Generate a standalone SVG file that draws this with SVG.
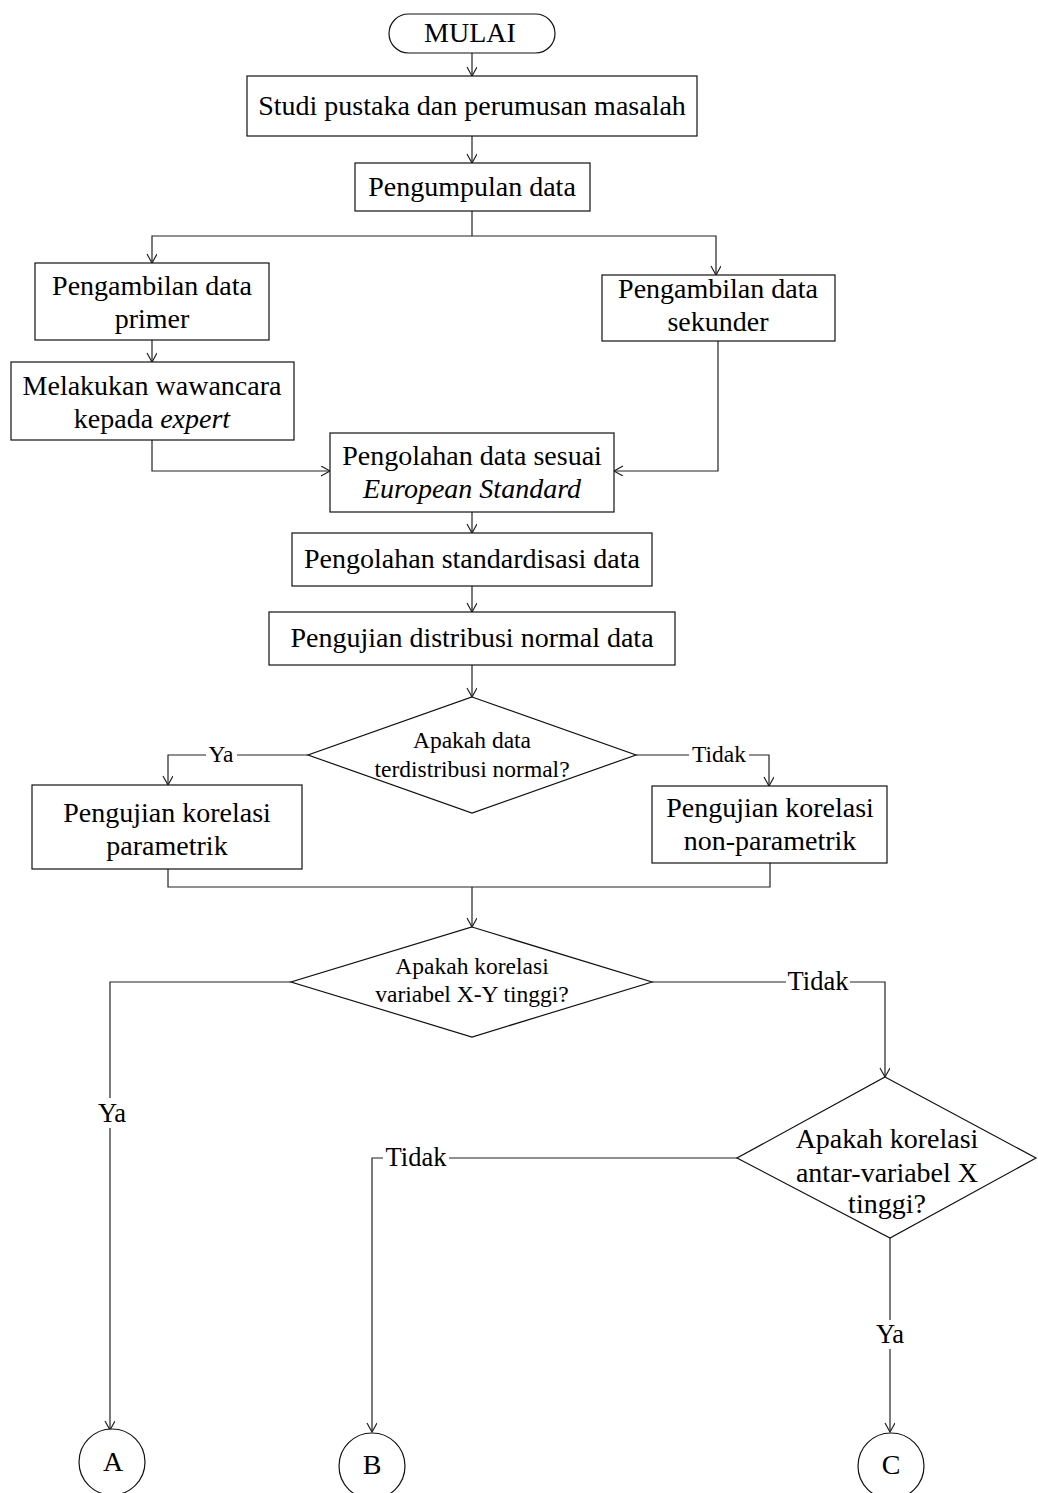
<svg xmlns="http://www.w3.org/2000/svg" width="1038" height="1493" viewBox="0 0 1038 1493">
  <style>
    .shape { fill: #fff; stroke: #111; stroke-width: 1.2; }
    .line { fill: none; stroke: #222; stroke-width: 1.2; }
    .arrow { marker-end: url(#head); }
    text { font-family: "Liberation Serif", "Times New Roman", serif; fill: #000; text-anchor: middle; }
    .t28 { font-size: 28px; }
    .t23 { font-size: 23.5px; }
    .lbl23 { font-size: 23.5px; }
    .lbl26 { font-size: 26.5px; }
    .it { font-style: italic; }
  </style>
  <defs>
    <marker id="head" markerWidth="12" markerHeight="12" refX="10" refY="5" orient="auto" markerUnits="userSpaceOnUse">
      <path d="M1,0 L10,5 L1,10" fill="none" stroke="#222" stroke-width="1.2"/>
    </marker>
  </defs>

  <rect width="1038" height="1493" fill="#fff"/>

  <!-- connectors -->
  <g id="connectors">
    <line class="line arrow" x1="472" y1="53" x2="472" y2="76"/>
    <line class="line arrow" x1="472" y1="136" x2="472" y2="163"/>
    <!-- split after Pengumpulan data -->
    <polyline class="line" points="472,211 472,236"/>
    <polyline class="line arrow" points="472,236 152,236 152,263"/>
    <polyline class="line arrow" points="472,236 716,236 716,275"/>
    <line class="line arrow" x1="152" y1="340" x2="152" y2="362"/>
    <polyline class="line arrow" points="152,440 152,471 330,471"/>
    <polyline class="line arrow" points="718,341 718,471 614,471"/>
    <line class="line arrow" x1="472" y1="512" x2="472" y2="533"/>
    <line class="line arrow" x1="472" y1="586" x2="472" y2="612"/>
    <line class="line arrow" x1="472" y1="665" x2="472" y2="697"/>
    <!-- normality decision -->
    <polyline class="line" points="308,755 237,755"/>
    <polyline class="line arrow" points="206,755 168,755 168,785"/>
    <polyline class="line" points="636,755 689,755"/>
    <polyline class="line arrow" points="749,755 769,755 769,786"/>
    <!-- merge of correlation tests -->
    <polyline class="line" points="168,869 168,887 770,887 770,863"/>
    <line class="line arrow" x1="472" y1="887" x2="472" y2="927"/>
    <!-- X-Y correlation decision -->
    <polyline class="line" points="291,982 110,982 110,1098"/>
    <line class="line arrow" x1="110" y1="1128" x2="110" y2="1430"/>
    <polyline class="line" points="652,982 786,982"/>
    <polyline class="line arrow" points="850,982 885,982 885,1077"/>
    <!-- X-X correlation decision -->
    <polyline class="line" points="737,1158 449,1158"/>
    <polyline class="line arrow" points="383,1158 372,1158 372,1432"/>
    <line class="line" x1="890" y1="1238" x2="890" y2="1320"/>
    <line class="line arrow" x1="890" y1="1349" x2="890" y2="1432"/>

    <text class="lbl23" x="221" y="762">Ya</text>
    <text class="lbl23" x="719" y="762">Tidak</text>
    <text class="lbl26" x="112" y="1122">Ya</text>
    <text class="lbl26" x="818" y="990">Tidak</text>
    <text class="lbl26" x="416" y="1166">Tidak</text>
    <text class="lbl26" x="890" y="1343">Ya</text>
  </g>

  <g id="start">
    <rect class="shape" x="389" y="14" width="166" height="39" rx="19.5" ry="19.5"/>
    <text class="t28" x="470" y="42">MULAI</text>
  </g>

  <g id="studi">
    <rect class="shape" x="247" y="76" width="450" height="60"/>
    <text class="t28" x="472" y="115">Studi pustaka dan perumusan masalah</text>
  </g>

  <g id="pengumpulan">
    <rect class="shape" x="355" y="163" width="235" height="48"/>
    <text class="t28" x="472" y="196">Pengumpulan data</text>
  </g>

  <g id="primer">
    <rect class="shape" x="35" y="263" width="234" height="77"/>
    <text class="t28" x="152" y="295">Pengambilan data</text>
    <text class="t28" x="152" y="328">primer</text>
  </g>

  <g id="sekunder">
    <rect class="shape" x="602" y="275" width="233" height="66"/>
    <text class="t28" x="718" y="298">Pengambilan data</text>
    <text class="t28" x="718" y="331">sekunder</text>
  </g>

  <g id="wawancara">
    <rect class="shape" x="11" y="362" width="283" height="78"/>
    <text class="t28" x="152" y="395">Melakukan wawancara</text>
    <text class="t28" x="152" y="428">kepada <tspan class="it">expert</tspan></text>
  </g>

  <g id="pengolahan-en">
    <rect class="shape" x="330" y="433" width="284" height="79"/>
    <text class="t28" x="472" y="465">Pengolahan data sesuai</text>
    <text class="t28 it" x="472" y="498">European Standard</text>
  </g>

  <g id="standardisasi">
    <rect class="shape" x="292" y="533" width="360" height="53"/>
    <text class="t28" x="472" y="568">Pengolahan standardisasi data</text>
  </g>

  <g id="distribusi">
    <rect class="shape" x="269" y="612" width="406" height="53"/>
    <text class="t28" x="472" y="647">Pengujian distribusi normal data</text>
  </g>

  <g id="cek-normal">
    <polygon class="shape" points="472,697 636,755 472,813 308,755"/>
    <text class="t23" x="472" y="748">Apakah data</text>
    <text class="t23" x="472" y="777">terdistribusi normal?</text>
  </g>

  <g id="parametrik">
    <rect class="shape" x="32" y="785" width="270" height="84"/>
    <text class="t28" x="167" y="822">Pengujian korelasi</text>
    <text class="t28" x="167" y="855">parametrik</text>
  </g>

  <g id="non-parametrik">
    <rect class="shape" x="652" y="786" width="235" height="77"/>
    <text class="t28" x="770" y="817">Pengujian korelasi</text>
    <text class="t28" x="770" y="850">non-parametrik</text>
  </g>

  <g id="cek-xy">
    <polygon class="shape" points="472,927 652,982 472,1037 291,982"/>
    <text class="t23" x="472" y="974">Apakah korelasi</text>
    <text class="t23" x="472" y="1002">variabel X-Y tinggi?</text>
  </g>

  <g id="cek-xx">
    <polygon class="shape" points="885,1077 1036,1158 890,1238 737,1158"/>
    <text class="t28" x="887" y="1148">Apakah korelasi</text>
    <text class="t28" x="887" y="1182">antar-variabel X</text>
    <text class="t28" x="887" y="1213">tinggi?</text>
  </g>

  <g id="konektor-a">
    <circle class="shape" cx="112" cy="1462" r="33"/>
    <text class="t28" x="113" y="1471">A</text>
  </g>

  <g id="konektor-b">
    <circle class="shape" cx="372" cy="1466" r="33"/>
    <text class="t28" x="372" y="1474">B</text>
  </g>

  <g id="konektor-c">
    <circle class="shape" cx="891" cy="1466" r="33"/>
    <text class="t28" x="891" y="1474">C</text>
  </g>
</svg>
